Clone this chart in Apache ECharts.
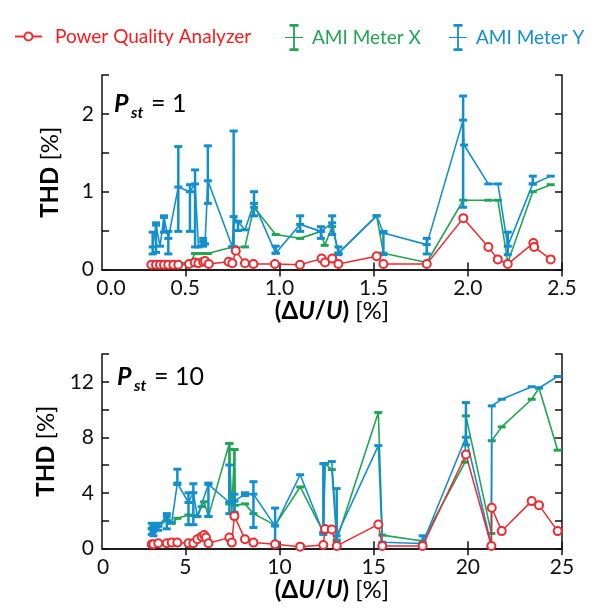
<!DOCTYPE html>
<html><head><meta charset="utf-8">
<script src="https://cdn.jsdelivr.net/npm/echarts@6/dist/echarts.min.js"></script>
<style>html,body{margin:0;padding:0;background:#fff}#c{width:592px;height:609px}</style>
</head><body><div id="c"></div>
<script>
// ---------- Data: P_st = 1 ----------
const p1_pqa_x = [0.32,0.345,0.366,0.387,0.41,0.437,0.463,0.52,0.55,0.57,0.595,0.605,0.625,0.73,0.75,0.768,0.817,0.862,0.976,1.109,1.224,1.242,1.28,1.313,1.516,1.552,1.782,1.976,2.109,2.159,2.212,2.348,2.352,2.44];
const p1_pqa_y = [0.06,0.06,0.06,0.06,0.06,0.06,0.06,0.07,0.09,0.08,0.10,0.11,0.07,0.10,0.08,0.24,0.08,0.07,0.07,0.06,0.14,0.09,0.14,0.07,0.17,0.07,0.07,0.66,0.29,0.13,0.07,0.34,0.29,0.13];
const p1_amix_x = [0.327,0.345,0.366,0.387,0.41,0.463,0.525,0.552,0.57,0.595,0.62,0.75,0.757,0.817,0.865,0.98,1.11,1.22,1.24,1.28,1.313,1.516,1.552,1.782,1.976,2.109,2.16,2.212,2.345,2.44];
const p1_amix_y = [0.085,0.085,0.085,0.085,0.085,0.085,0.085,0.205,0.205,0.205,0.205,0.29,0.29,0.29,0.80,0.45,0.40,0.49,0.31,0.55,0.21,0.69,0.21,0.09,0.89,0.89,0.89,0.09,1.0,1.09];
const p1_amiy_x  = [0.327,0.345,0.366,0.387,0.41,0.463,0.525,0.552,0.57,0.595,0.605,0.62,0.75,0.757,0.78,0.817,0.865,0.98,1.11,1.22,1.28,1.313,1.516,1.552,1.782,1.975,1.98,2.109,2.16,2.212,2.345,2.44];
const p1_amiy_y  = [0.29,0.57,0.30,0.67,0.40,1.06,1.00,1.10,0.29,0.36,0.33,1.14,0.29,0.68,0.61,0.51,0.85,0.21,0.58,0.49,0.60,0.21,0.69,0.47,0.32,1.92,1.60,1.10,1.10,0.30,1.10,1.20];
const p1_amiy_lo = [0.20,0.22,null,0.48,0.20,0.49,0.49,0.29,null,0.30,null,0.85,null,0.29,0.50,null,0.69,0.21,0.49,0.40,0.45,0.19,null,0.19,0.20,0.80,null,null,null,0.19,1.10,null];
const p1_amiy_hi = [0.48,0.60,null,0.69,0.49,1.58,1.09,1.28,null,0.40,null,1.59,null,1.78,0.62,null,1.00,0.30,0.69,0.55,0.69,0.29,null,0.49,0.40,2.23,null,null,null,0.48,1.20,null];

// ---------- Data: P_st = 10 ----------
const p10_pqa_x = [3.22,3.31,3.57,4.02,4.28,4.58,5.17,5.43,5.64,5.87,6.0,6.1,6.23,7.34,7.47,7.61,8.17,8.62,9.77,11.1,12.33,12.42,12.78,13.04,15.25,15.46,17.6,19.9,21.25,21.27,21.8,23.39,23.78,24.77];
const p10_pqa_y = [0.29,0.29,0.36,0.36,0.41,0.41,0.36,0.36,0.65,0.84,0.96,0.77,0.36,0.77,0.41,2.32,0.65,0.41,0.29,0.12,0.24,1.39,1.35,0.17,1.72,0.17,0.17,6.76,0.17,2.92,1.24,3.40,3.11,1.24];
const p10_amix_x  = [3.22,3.31,3.57,4.02,4.28,4.58,5.17,5.43,5.64,5.87,6.0,6.23,7.34,7.47,7.61,7.65,8.17,8.62,9.77,11.1,12.33,12.42,12.78,13.04,15.25,15.46,17.6,19.85,19.9,21.25,21.27,21.8,23.39,23.78,24.77];
const p10_amix_y  = [1.44,1.50,1.60,2.03,1.80,2.16,2.40,2.35,2.28,3.00,3.35,2.30,7.55,2.50,7.12,3.10,3.20,2.50,1.67,4.42,1.16,6.10,5.67,0.60,9.78,0.95,0.52,6.20,9.54,1.07,7.75,8.75,10.74,11.55,7.07];
const p10_amix_lo = [null,null,null,null,null,null,null,null,null,null,null,null,3.2,null,2.5,null,null,null,null,null,null,null,null,null,null,null,null,null,null,null,null,null,null,null,null];
const p10_amix_hi = [null,null,null,null,null,null,null,null,null,null,null,null,7.55,null,7.12,null,null,null,null,null,null,null,null,null,null,null,null,null,null,null,null,null,null,null,null];
const p10_amiy_x  = [3.22,3.31,3.57,4.02,4.28,4.58,5.17,5.43,5.64,6.23,7.34,7.61,8.17,8.62,9.77,11.1,12.33,12.42,12.78,13.04,15.25,15.46,17.6,19.9,21.25,21.27,21.8,23.39,23.78,24.77];
const p10_amiy_y  = [1.40,1.20,1.60,2.30,1.85,4.70,3.30,4.00,2.30,4.60,3.30,3.40,3.90,3.90,1.60,5.30,1.10,6.10,6.25,0.90,7.40,0.44,0.35,8.00,0.20,10.26,10.74,11.64,11.55,12.38];
const p10_amiy_lo = [1.0,0.9,1.3,1.4,null,4.6,1.7,1.7,null,2.3,2.5,2.6,3.8,1.5,0.1,null,1.0,null,null,0.5,null,null,0.35,7.45,null,null,null,null,null,null];
const p10_amiy_hi = [1.8,1.6,1.8,2.5,null,5.7,4.0,4.65,null,4.7,6.0,3.9,4.0,4.8,2.9,null,6.1,null,null,4.3,null,null,0.9,10.5,null,null,null,null,null,null];

// ---------- Axis ticks ----------
const p1_xticks = [0.5,1.0,1.5,2.0,2.5];
const p10_xticks = [5,10,15,20,25];

const RED = '#ee2b30', GREEN = '#22a552', BLUE = '#138fd0';
const FONT = 'Lato';

function pairs(xs, ys){ return xs.map((x,i)=>[x, ys[i]]); }
function bars(xs, lo, hi){ const out=[]; xs.forEach((x,i)=>{ if(lo[i]!=null) out.push([x, lo[i], hi[i]]); }); return out; }
function errRender(color){
  return function(params, api){
    const x = api.value(0), lo = api.value(1), hi = api.value(2);
    const a = api.coord([x, lo]), b = api.coord([x, hi]);
    const cw = 4;
    return {type:'group', children:[
      {type:'line', shape:{x1:a[0],y1:a[1],x2:b[0],y2:b[1]}, style:{stroke:color, lineWidth:2.5}},
      {type:'line', shape:{x1:a[0]-cw,y1:a[1],x2:a[0]+cw,y2:a[1]}, style:{stroke:color, lineWidth:3}},
      {type:'line', shape:{x1:b[0]-cw,y1:b[1],x2:b[0]+cw,y2:b[1]}, style:{stroke:color, lineWidth:3}}
    ]};
  };
}

const axisLineStyle = {show:true, lineStyle:{color:'#111', width:1.5}};
const tickStyle = {show:true, inside:true, length:7, lineStyle:{color:'#111', width:1.5}};
const xName = '{b|(Δ}{bi|U}{b|/}{bi|U}{b|)}{n| [%]}';
const nameRich = {
  b:{fontFamily:FONT, fontWeight:'bold', fontSize:24, color:'#000'},
  bi:{fontFamily:FONT, fontWeight:'bold', fontStyle:'italic', fontSize:24, color:'#000'},
  n:{fontFamily:FONT, fontSize:24, color:'#000'}
};
const yName = '{b|THD}{n| [%]}';

function xAxes(grid, min, max, ticks, zeroLabel, zeroShift){
  return [
    {type:'value', gridIndex:grid, position:'bottom', min:min, max:max,
     axisLine:axisLineStyle,
     axisTick:Object.assign({customValues:ticks}, tickStyle),
     axisLabel:{customValues:[min].concat(ticks), margin:8, fontFamily:FONT, fontSize:21, color:'#111',
       rich:{z:{fontFamily:FONT, fontSize:21, color:'#111', padding:[0,0,0,zeroShift]}},
       formatter:(v)=> v < ticks[0]*0.5 ? '{z|' + zeroLabel + '}' : (zeroLabel==='0.0' ? v.toFixed(1) : String(Math.round(v)))},
     splitLine:{show:false},
     name:xName, nameLocation:'middle', nameGap:30, nameTextStyle:{rich:nameRich}},
    {type:'value', gridIndex:grid, position:'top', min:min, max:max,
     axisLine:axisLineStyle,
     axisTick:Object.assign({customValues:ticks}, tickStyle),
     axisLabel:{show:false}, splitLine:{show:false}}
  ];
}
function yAxes(grid, max, interval, labelEvery){
  return [
    {type:'value', gridIndex:grid, position:'left', min:0, max:max, interval:interval,
     axisLine:axisLineStyle, axisTick:tickStyle,
     axisLabel:{margin:8, fontFamily:FONT, fontSize:21, color:'#111',
       formatter:(v)=> (Math.abs(v/labelEvery - Math.round(v/labelEvery))<1e-6) ? String(v) : ''},
     splitLine:{show:false},
     name:yName, nameLocation:'middle', nameRotate:90, nameGap:40, nameTextStyle:{rich:nameRich}},
    {type:'value', gridIndex:grid, position:'right', min:0, max:max, interval:interval,
     axisLine:axisLineStyle, axisTick:tickStyle, axisLabel:{show:false}, splitLine:{show:false}}
  ];
}

function seriesFor(xi, yi, pqa, amix, amixBars, amiy, amiyBars){
  return [
    {name:'AMI Meter X', type:'line', xAxisIndex:xi, yAxisIndex:yi, data:amix, color:GREEN,
     symbol:'rect', symbolSize:[8,3], lineStyle:{width:1.6, color:GREEN}, itemStyle:{color:GREEN}, z:2},
    {name:'AMI Meter X', type:'custom', xAxisIndex:xi, yAxisIndex:yi, data:amixBars, color:GREEN,
     encode:{x:0, y:[1,2]}, renderItem:errRender(GREEN), z:2},
    {name:'AMI Meter Y', type:'line', xAxisIndex:xi, yAxisIndex:yi, data:amiy, color:BLUE,
     symbol:'rect', symbolSize:[8,3], lineStyle:{width:1.6, color:BLUE}, itemStyle:{color:BLUE}, z:3},
    {name:'AMI Meter Y', type:'custom', xAxisIndex:xi, yAxisIndex:yi, data:amiyBars, color:BLUE,
     encode:{x:0, y:[1,2]}, renderItem:errRender(BLUE), z:3},
    {name:'Power Quality Analyzer', type:'line', xAxisIndex:xi, yAxisIndex:yi, data:pqa, color:RED,
     symbol:'emptyCircle', symbolSize:8, lineStyle:{width:1.5, color:RED}, itemStyle:{color:RED, borderWidth:1.2}, z:4}
  ];
}

const errIcon = 'path://M5,0H15V3H5Z M9,0H11V30H9Z M5,27H15V30H5Z M0,14.4H20V15.6H0Z';

const chart = echarts.init(document.getElementById('c'), null, {renderer:'canvas'});
const option = {
  animation:false,
  backgroundColor:'#fff',
  textStyle:{fontFamily:FONT},
  grid:[
    {left:102, right:30, top:75, bottom:339.5},
    {left:102, right:30, top:354, bottom:60.7}
  ],
  legend:[
    {left:9, top:22, selectedMode:false, itemWidth:27, itemHeight:10, data:[{name:'Power Quality Analyzer', textStyle:{color:'#ff1a1a'}}],
     textStyle:{fontFamily:FONT, fontSize:19, padding:[0,0,0,8]}},
    {left:280, top:19, selectedMode:false, itemWidth:18, itemHeight:28, data:[{name:'AMI Meter X', icon:errIcon, textStyle:{color:GREEN}}],
     textStyle:{fontFamily:FONT, fontSize:19, padding:[0,0,0,4]}},
    {left:444, top:19, selectedMode:false, itemWidth:18, itemHeight:28, data:[{name:'AMI Meter Y', icon:errIcon, textStyle:{color:BLUE}}],
     textStyle:{fontFamily:FONT, fontSize:19, padding:[0,0,0,4]}}
  ],
  xAxis: xAxes(0, 0.058, 2.5, p1_xticks, '0.0', 18).concat(xAxes(1, 0.58, 25, p10_xticks, '0', 2)),
  yAxis: yAxes(0, 2.5, 0.5, 1).concat(yAxes(1, 14, 2, 4)),
  graphic:[
    {type:'text', left:114, top:91, style:{text:'P', fontFamily:FONT, fontSize:25, fontWeight:'bold', fontStyle:'italic', fill:'#000'}},
    {type:'text', left:131, top:105, style:{text:'st', fontFamily:FONT, fontSize:16, fontWeight:'bold', fontStyle:'italic', fill:'#000'}},
    {type:'text', left:151, top:91, style:{text:'= 1', fontFamily:FONT, fontSize:25, fill:'#000'}},
    {type:'text', left:117, top:364, style:{text:'P', fontFamily:FONT, fontSize:25, fontWeight:'bold', fontStyle:'italic', fill:'#000'}},
    {type:'text', left:134, top:378, style:{text:'st', fontFamily:FONT, fontSize:16, fontWeight:'bold', fontStyle:'italic', fill:'#000'}},
    {type:'text', left:154, top:364, style:{text:'= 10', fontFamily:FONT, fontSize:25, fill:'#000'}}
  ],
  series: seriesFor(0, 0, pairs(p1_pqa_x,p1_pqa_y), pairs(p1_amix_x,p1_amix_y), [], pairs(p1_amiy_x,p1_amiy_y), bars(p1_amiy_x,p1_amiy_lo,p1_amiy_hi))
    .concat(seriesFor(2, 2, pairs(p10_pqa_x,p10_pqa_y), pairs(p10_amix_x,p10_amix_y), bars(p10_amix_x,p10_amix_lo,p10_amix_hi), pairs(p10_amiy_x,p10_amiy_y), bars(p10_amiy_x,p10_amiy_lo,p10_amiy_hi)))
};
chart.setOption(option);
</script></body></html>
